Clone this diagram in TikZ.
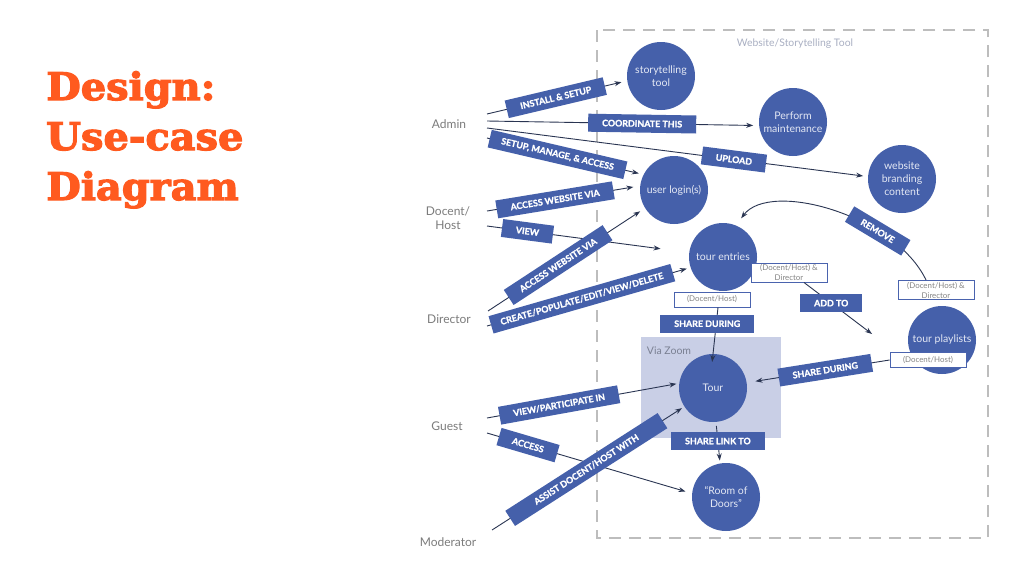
\documentclass[tikz,border=0pt]{standalone}
\usepackage{fontspec}
\setmainfont{Lato}
\newfontfamily\titlefont{DejaVu Serif}[BoldFeatures={FakeBold=3,FakeStretch=1.05}]
\newfontfamily\labfont{Lato}[BoldFeatures={FakeBold=1.2}]
\usetikzlibrary{arrows.meta,calc}
\definecolor{ublue}{HTML}{4560AA}
\definecolor{nblue}{HTML}{4A63AE}
\definecolor{lcol}{HTML}{2A3552}
\definecolor{ctext}{HTML}{E4E8F4}
\definecolor{agray}{HTML}{7C7C7C}
\definecolor{ngray}{HTML}{858585}
\definecolor{torange}{HTML}{FF5A1F}
\definecolor{zoomfill}{HTML}{C9CFE6}
\definecolor{dashgray}{HTML}{BDBDBD}
\definecolor{boxlabel}{HTML}{A9AFC2}
\definecolor{zoomtext}{HTML}{7A8092}
\begin{document}
\begin{tikzpicture}[x=1pt,y=-1pt,
  circ/.style={circle, fill=ublue, minimum size=68pt, inner sep=0pt, outer sep=0pt,
    text=ctext, font=\fontsize{10.5}{13}\selectfont, align=center},
  lab/.style={fill=ublue, text=white, font=\labfont\bfseries\fontsize{8.9}{10}\selectfont,
    inner xsep=14pt, inner ysep=0pt, minimum height=18pt},
  note/.style={draw=nblue, fill=white, line width=0.8pt, text=ngray,
    font=\fontsize{7.9}{10}\selectfont, align=center, minimum width=76pt,
    minimum height=15pt, inner sep=1.5pt},
  conn/.style={draw=lcol, line width=0.9pt, -{Stealth[length=7pt,width=5pt]}},
  actor/.style={text=agray, font=\fontsize{12}{14}\selectfont, align=center, inner sep=0pt},
  titletext/.style={text=torange, font=\titlefont\bfseries\fontsize{38}{40}\selectfont,
    inner sep=0pt, anchor=base west},
  dashbox/.style={draw=dashgray, line width=1.5pt, dash pattern=on 12pt off 8pt}
]
\useasboundingbox (0,0) rectangle (1024,576);
\fill[white] (0,0) rectangle (1024,576);

% title
\node[titletext] (t1) at (46,100) {Design:};
\node[titletext] (t2) at (46,150) {Use-case};
\node[titletext] (t3) at (46,200) {Diagram};

% system boundary and zoom area
\draw[dashbox] (597,30) rectangle (988,538);
\node[text=boxlabel, font=\fontsize{10.4}{12}\selectfont] (systitle) at (795,44) {Website/Storytelling Tool};
\fill[zoomfill] (641,337) rectangle (781,438);
\node[text=zoomtext, font=\fontsize{10.5}{12}\selectfont] (viazoom) at (669,351) {Via Zoom};

% actors
\node[actor] (admin) at (449,124) {Admin};
\node[actor] (docent) at (448,218) {Docent/\\Host};
\node[actor] (director) at (449,319) {Director};
\node[actor] (guest) at (447,426) {Guest};
\node[actor] (moderator) at (448,542) {Moderator};

% use cases
\node[circ] (story) at (661,76) {storytelling\\tool};
\node[circ] (pm) at (793,122) {Perform\\maintenance};
\node[circ] (wb) at (902,179) {website\\branding\\content};
\node[circ] (login) at (674,190) {user login(s)};
\node[circ] (entries) at (723,257) {tour entries};
\node[circ] (playlists) at (942,340) {tour playlists};
\node[circ] (tour) at (713,388) {Tour};
\node[circ] (room) at (726,497) {``Room of\\Doors''};

% notes
\node[note] (ten1) at (789,272.5) {(Docent/Host) \&\\Director};
\node[note] (ten2) at (712,299.5) {(Docent/Host)};
\node[note] (pln1) at (936,290) {(Docent/Host) \&\\Director};
\node[note] (pln2) at (928,360) {(Docent/Host)};
\coordinate (addtip) at (872,334);

% actor connectors
\draw[conn, shorten >=6pt] ($(admin)+(38,-10)$) -- (story.188)
  node[lab, sloped, pos=0.49] {INSTALL \& SETUP};
\draw[conn, shorten >=6pt] ($(admin)+(38,-3)$) -- (pm.186)
  node[lab, sloped, pos=0.57] {COORDINATE THIS};
\draw[conn, shorten >=5pt] ($(admin)+(38,4)$) -- (wb.176)
  node[lab, sloped, pos=0.648] {UPLOAD};
\draw[conn, shorten >=5pt] ($(admin)+(38,14)$) -- (login.153)
  node[lab, sloped, pos=0.45, inner xsep=12pt] {SETUP, MANAGE, \& ACCESS};
\draw[conn, shorten >=7pt] ($(docent)+(39,-7)$) -- (login.173)
  node[lab, sloped, pos=0.444] {ACCESS WEBSITE VIA};
\draw[conn, shorten >=29pt] ($(docent)+(39,8)$) -- (entries)
  node[lab, sloped, pos=0.2] {VIEW};
\draw[conn, shorten >=6pt] ($(director)+(39,-8)$) -- (login.212)
  node[lab, sloped, pos=0.446] {ACCESS WEBSITE VIA};
\draw[conn, shorten >=4pt] ($(director)+(38,7)$) -- (entries.198)
  node[lab, sloped, pos=0.466, inner xsep=10pt] {CREATE/POPULATE/EDIT/VIEW/DELETE};
\draw[conn, shorten >=3pt] ($(guest)+(40,-8)$) -- (tour.172)
  node[lab, sloped, pos=0.375] {VIEW/PARTICIPATE IN};
\draw[conn, shorten >=7pt] ($(guest)+(40,7)$) -- (room.174)
  node[lab, sloped, pos=0.2] {ACCESS};
\draw[conn, shorten >=3pt] ($(moderator)+(44,-12)$) -- (tour.213)
  node[lab, sloped, pos=0.49, minimum width=181pt] {ASSIST DOCENT/HOST WITH};

% internal connectors
\draw[conn, shorten >=9pt] ([xshift=-10pt]pln1.north) .. controls (895,215) and (770,180) .. (entries.68)
  node[lab, sloped, pos=0.3] {REMOVE};
\draw[conn] ([xshift=15pt]ten1.south) -- (addtip)
  node[lab, pos=0.4] {ADD TO};
\draw[conn, shorten >=-8pt] ([xshift=6pt]ten2.south) -- (tour.north)
  node[lab, pos=0.35, xshift=-9pt] {SHARE DURING};
\draw[conn, shorten >=9pt] (pln2.west) -- (tour)
  node[lab, sloped, pos=0.45] {SHARE DURING};
\draw[conn, shorten <=4pt, shorten >=3pt] (tour.-85) -- (room.100)
  node[lab, pos=0.46] {SHARE LINK TO};
\end{tikzpicture}
\end{document}
